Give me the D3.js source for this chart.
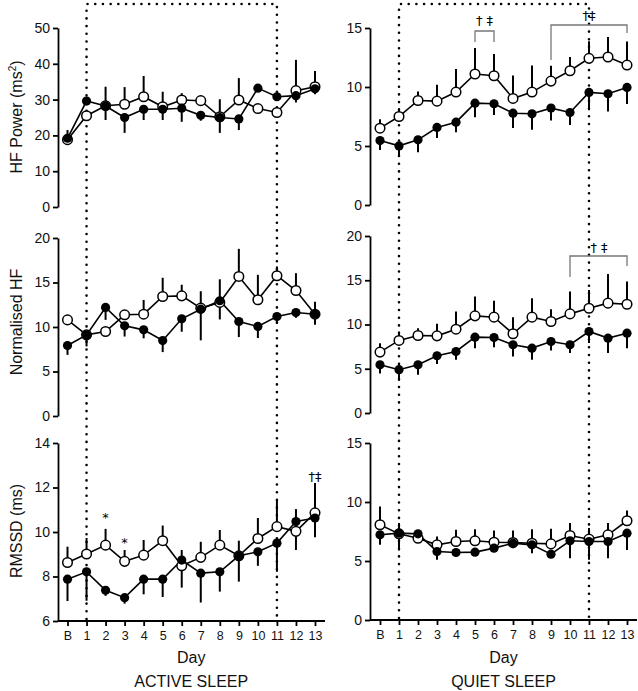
<!DOCTYPE html>
<html>
<head>
<meta charset="utf-8">
<script src="https://cdn.jsdelivr.net/npm/d3@7"></script>
<style>
html,body{margin:0;padding:0;background:#fff;}
svg{display:block;font-family:"Liberation Sans",Arial,Helvetica,sans-serif;}
</style>
</head>
<body>
<svg id="chart" width="638" height="691"></svg>
<script>
// ---------- data ----------
const days = ["B","1","2","3","4","5","6","7","8","9","10","11","12","13"];

// HF Power (ms^2) – active sleep
const hfPowerActiveFilled    = [19.2,29.6,28.2,25.0,27.3,27.3,27.6,25.6,25.0,24.6,33.2,30.8,31.1,33.0];
const hfPowerActiveFilledSem = [1.9,1.0,3.9,4.3,3.0,3.0,3.8,1.5,4.3,3.1,0.8,0.8,1.9,1.5];
const hfPowerActiveOpen      = [18.8,25.5,28.3,28.7,30.8,28.0,29.9,29.7,25.2,29.9,27.5,26.4,32.5,33.6];
const hfPowerActiveOpenSem   = [2.7,1.0,5.3,4.8,5.8,4.2,1.9,0.8,4.9,6.1,0.5,0.6,8.6,4.4];

// HF Power – quiet sleep
const hfPowerQuietFilled    = [5.46,5.01,5.52,6.57,7.02,8.63,8.58,7.78,7.73,8.21,7.84,9.54,9.43,9.96];
const hfPowerQuietFilledSem = [0.8,0.9,1.05,0.9,0.85,1.2,0.95,1.25,1.35,1.05,1.05,1.5,1.5,1.4];
const hfPowerQuietOpen      = [6.51,7.5,8.86,8.8,9.57,11.1,10.95,9.03,9.57,10.5,11.38,12.43,12.54,11.86];
const hfPowerQuietOpenSem   = [0.76,0.7,0.76,1.39,1.95,2.2,1.84,1.95,2.26,1.3,1.16,1.44,1.7,2.0];

// Normalised HF – active sleep
const normHfActiveFilled    = [7.92,9.12,12.2,10.13,9.68,8.48,10.92,12.0,12.95,10.62,10.06,11.18,11.63,11.44];
const normHfActiveFilledSem = [1.05,1.3,1.4,1.2,0.95,1.3,1.45,3.5,2.1,1.75,1.3,0.8,0.6,1.2];
const normHfActiveOpen      = [10.8,9.12,9.49,11.37,11.44,13.43,13.5,12.12,12.76,15.68,13.06,15.76,14.1,11.44];
const normHfActiveOpenSem   = [0.3,0.5,0.5,0.4,1.6,2.1,1.25,1.9,2.6,3.1,2.8,1.05,1.95,1.4];

// Normalised HF – quiet sleep
const normHfQuietFilled    = [5.45,4.89,5.45,6.47,6.95,8.57,8.53,7.71,7.33,8.08,7.71,9.21,8.46,9.02];
const normHfQuietFilledSem = [1.0,1.24,1.13,0.94,0.93,1.24,1.09,1.32,1.31,1.01,0.94,1.3,1.69,1.69];
const normHfQuietOpen      = [6.88,8.2,8.76,8.72,9.47,10.98,10.83,8.95,10.83,10.34,11.2,11.84,12.41,12.29];
const normHfQuietOpenSem   = [1.0,1.0,0.83,1.36,2.0,2.18,1.84,1.88,2.14,1.39,2.52,2.07,3.3,2.56];

// RMSSD (ms) – active sleep
const rmssdActiveFilled    = [7.88,8.21,7.38,7.05,7.88,7.88,8.74,8.15,8.21,8.93,9.11,9.5,10.47,10.63];
const rmssdActiveFilledSem = [0.98,1.3,0.25,0.27,0.68,0.8,1.24,1.32,0.89,1.16,0.63,1.29,1.28,0.87];
const rmssdActiveOpen      = [8.63,9.01,9.41,8.68,8.96,9.61,8.48,8.86,9.41,8.93,9.71,10.24,10.03,10.86];
const rmssdActiveOpenSem   = [0.71,0.72,0.73,0.51,0.68,0.68,0.71,0.7,0.68,0.68,0.92,1.17,1.0,1.34];

// RMSSD – quiet sleep
const rmssdQuietFilled    = [7.22,7.36,7.3,5.8,5.72,5.75,6.09,6.51,6.37,5.58,6.71,6.65,6.65,7.36];
const rmssdQuietFilledSem = [0.85,1.46,0.5,0.7,0.34,0.23,0.29,0.42,0.71,0.2,1.47,1.55,1.41,1.42];
const rmssdQuietOpen      = [8.07,7.3,6.93,6.37,6.65,6.71,6.59,6.57,6.51,6.45,7.16,6.85,7.22,8.41];
const rmssdQuietOpenSem   = [1.55,0.91,0.57,0.71,0.99,0.99,1.0,1.02,1.19,1.28,1.05,0.95,0.99,0.87];

// axis ticks
const ticksHfActive = [0,10,20,30,40,50];
const ticksHfQuiet  = [0,5,10,15];
const ticksNorm     = [0,5,10,15,20];
const ticksRmssdActive = [6,8,10,12,14];
const ticksRmssdQuiet  = [0,5,10,15];

// ---------- layout ----------
const svg = d3.select("#chart");
const dayIdx = d3.range(days.length);

const xLeft  = d3.scaleLinear().domain([0,13]).range([67.5,315]);
const xRight = d3.scaleLinear().domain([0,13]).range([380,627]);
const axisXLeft = 58, axisXRight = 370;

const panels = [
  {x:xLeft, ax:axisXLeft, y:d3.scaleLinear().domain([0,50]).range([207,28]), ticks:ticksHfActive,
   f:hfPowerActiveFilled, fs:hfPowerActiveFilledSem, o:hfPowerActiveOpen, os:hfPowerActiveOpenSem},
  {x:xRight, ax:axisXRight, y:d3.scaleLinear().domain([0,15]).range([205,28]), ticks:ticksHfQuiet,
   f:hfPowerQuietFilled, fs:hfPowerQuietFilledSem, o:hfPowerQuietOpen, os:hfPowerQuietOpenSem},
  {x:xLeft, ax:axisXLeft, y:d3.scaleLinear().domain([0,20]).range([416,238]), ticks:ticksNorm,
   f:normHfActiveFilled, fs:normHfActiveFilledSem, o:normHfActiveOpen, os:normHfActiveOpenSem},
  {x:xRight, ax:axisXRight, y:d3.scaleLinear().domain([0,20]).range([413,236]), ticks:ticksNorm,
   f:normHfQuietFilled, fs:normHfQuietFilledSem, o:normHfQuietOpen, os:normHfQuietOpenSem},
  {x:xLeft, ax:axisXLeft, y:d3.scaleLinear().domain([6,14]).range([621,443]), ticks:ticksRmssdActive, bottom:true,
   f:rmssdActiveFilled, fs:rmssdActiveFilledSem, o:rmssdActiveOpen, os:rmssdActiveOpenSem},
  {x:xRight, ax:axisXRight, y:d3.scaleLinear().domain([0,15]).range([620,443]), ticks:ticksRmssdQuiet, bottom:true,
   f:rmssdQuietFilled, fs:rmssdQuietFilledSem, o:rmssdQuietOpen, os:rmssdQuietOpenSem},
];

// dotted boxes (day 1 to day 11)
[[xLeft,621],[xRight,620]].forEach(([x,yb])=>{
  const g = svg.append("g").attr("stroke","#000").attr("stroke-width",2.6)
    .attr("stroke-dasharray","0 7.7").attr("stroke-linecap","round").attr("fill","none");
  g.append("path").attr("d",`M${x(1)},${yb-2}V4H${x(11)}V${yb-2}`);
});

panels.forEach(p=>{
  const g = svg.append("g");
  // y axis
  const ya = g.append("g").attr("transform",`translate(${p.ax},0)`)
    .call(d3.axisLeft(p.y).tickValues(p.ticks).tickSize(5).tickSizeOuter(0).tickPadding(3));
  ya.select(".domain").attr("stroke-width",1.8);
  ya.selectAll(".tick line").attr("stroke-width",1.8);
  ya.selectAll("text").attr("font-size",14).attr("font-family","Liberation Sans, Arial, sans-serif").attr("fill","#111");

  if (p.bottom) {
    const yb = p.y.range()[0];
    const xa = g.append("g").attr("transform",`translate(0,${yb})`)
      .call(d3.axisBottom(p.x).tickValues(dayIdx).tickFormat(i=>days[i]).tickSize(5).tickSizeOuter(0).tickPadding(5));
    xa.select(".domain").attr("d",`M${p.ax},0H${p.x(13)+10}`).attr("stroke-width",1.8);
    xa.selectAll(".tick line").attr("stroke-width",1.8);
    xa.selectAll("text").attr("font-size",12.5).attr("font-family","Liberation Sans, Arial, sans-serif").attr("fill","#111");
  }

  const line = d3.line().x((d,i)=>p.x(i)).y(d=>p.y(d));
  g.append("path").datum(p.o).attr("d",line).attr("fill","none").attr("stroke","#000").attr("stroke-width",1.6);
  g.append("path").datum(p.f).attr("d",line).attr("fill","none").attr("stroke","#000").attr("stroke-width",1.6);

  // error bars: open up, filled down
  g.selectAll(".eo").data(p.o).enter().append("line")
    .attr("x1",(d,i)=>p.x(i)).attr("x2",(d,i)=>p.x(i))
    .attr("y1",d=>p.y(d)).attr("y2",(d,i)=>p.y(d+p.os[i]))
    .attr("stroke","#000").attr("stroke-width",2);
  g.selectAll(".ef").data(p.f).enter().append("line")
    .attr("x1",(d,i)=>p.x(i)).attr("x2",(d,i)=>p.x(i))
    .attr("y1",d=>p.y(d)).attr("y2",(d,i)=>p.y(d-p.fs[i]))
    .attr("stroke","#000").attr("stroke-width",2);

  g.selectAll(".mo").data(p.o).enter().append("circle")
    .attr("cx",(d,i)=>p.x(i)).attr("cy",d=>p.y(d)).attr("r",4.8)
    .attr("fill","#fff").attr("stroke","#000").attr("stroke-width",1.5);
  g.selectAll(".mf").data(p.f).enter().append("circle")
    .attr("cx",(d,i)=>p.x(i)).attr("cy",d=>p.y(d)).attr("r",4.6).attr("fill","#000");
});

// axis titles
const titleFont = "Liberation Sans, Arial, sans-serif";
function yTitle(cy, parts){
  const t = svg.append("text").attr("transform",`translate(22,${cy}) rotate(-90)`)
    .attr("text-anchor","middle").attr("font-size",16).attr("font-family",titleFont).attr("fill","#111");
  parts.forEach(pt=>{
    const s = t.append("tspan").text(pt.t);
    if (pt.sup) s.attr("font-size",10).attr("dy",-6);
    if (pt.after) s.attr("dy",6);
  });
}
yTitle(117,[{t:"HF Power (ms"},{t:"2",sup:true},{t:")",after:true}]);
yTitle(322,[{t:"Normalised HF"}]);
yTitle(531,[{t:"RMSSD (ms)"}]);

[[xLeft,"ACTIVE SLEEP"],[xRight,"QUIET SLEEP"]].forEach(([x,lab])=>{
  const cx = (x(0)+x(13))/2;
  svg.append("text").attr("x",cx).attr("y",663).attr("text-anchor","middle")
    .attr("font-size",16).attr("font-family",titleFont).attr("fill","#111").text("Day");
  svg.append("text").attr("x",cx).attr("y",687).attr("text-anchor","middle")
    .attr("font-size",16).attr("font-family",titleFont).attr("fill","#111").text(lab);
});

// significance annotations
const annColor = "#777";
function bracket(x, d0, d1, top, l0, l1){
  svg.append("path").attr("d",`M${x(d0)},${l0}V${top}H${x(d1)}V${l1}`)
    .attr("fill","none").attr("stroke",annColor).attr("stroke-width",1.3);
}
function note(x, y, txt, size){
  svg.append("text").attr("x",x).attr("y",y).attr("text-anchor","middle")
    .attr("font-size",size||14).attr("font-family","DejaVu Sans, sans-serif").attr("fill","#000").text(txt);
}
bracket(xRight,5,6,31,42,42);
note((xRight(5)+xRight(6))/2, 25, "† ‡", 13);
bracket(xRight,9,13,25,60,33);
note(xRight(11), 20, "†‡", 13);
bracket(xRight,10,13,256,277,266);
note(xRight(11)+10, 252, "† ‡", 13);
note(xLeft(2), 522, "*", 13);
note(xLeft(3), 547, "*", 13);
note(xLeft(13), 481, "†‡", 13);
</script>
</body>
</html>
